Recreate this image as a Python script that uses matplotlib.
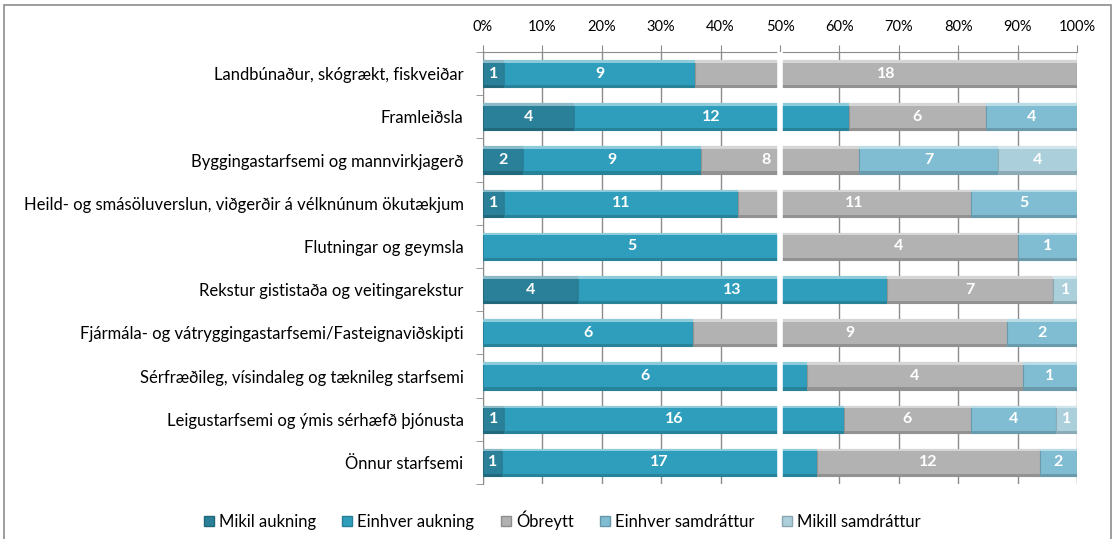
import numpy as np
import matplotlib.pyplot as plt
from matplotlib.patches import Patch, Rectangle
from matplotlib.ticker import FixedLocator, PercentFormatter
import matplotlib.colors as mcolors

plt.rcParams['font.family'] = ['Lato', 'DejaVu Sans']

categories = [
    "Landbúnaður, skógrækt, fiskveiðar",
    "Framleiðsla",
    "Byggingastarfsemi og mannvirkjagerð",
    "Heild- og smásöluverslun, viðgerðir á vélknúnum ökutækjum",
    "Flutningar og geymsla",
    "Rekstur gististaða og veitingarekstur",
    "Fjármála- og vátryggingastarfsemi/Fasteignaviðskipti",
    "Sérfræðileg, vísindaleg og tæknileg starfsemi",
    "Leigustarfsemi og ýmis sérhæfð þjónusta",
    "Önnur starfsemi",
]
series_names = ["Mikil aukning", "Einhver aukning", "Óbreytt",
                "Einhver samdráttur", "Mikill samdráttur"]
mikil_aukning      = [1, 4, 2, 1, 0, 4, 0, 0, 1, 1]
einhver_aukning    = [9, 12, 9, 11, 5, 13, 6, 6, 16, 17]
obreytt            = [18, 6, 8, 11, 4, 7, 9, 4, 6, 12]
einhver_samdrattur = [0, 4, 7, 5, 1, 0, 2, 1, 4, 2]
mikill_samdrattur  = [0, 0, 4, 0, 0, 1, 0, 0, 1, 0]

colors = ["#2a8099", "#2f9ebc", "#b2b2b2", "#80bdd2", "#abd0dc"]

counts = np.array([mikil_aukning, einhver_aukning, obreytt,
                   einhver_samdrattur, mikill_samdrattur], dtype=float)
shares = counts / counts.sum(axis=0)

fig = plt.figure(figsize=(11.17, 5.39), dpi=100)
ax = fig.add_axes([0.4324, 0.102, 0.5318, 0.8015])

y = np.arange(len(categories))
h = 0.63
left = np.zeros(len(categories))
for i, name in enumerate(series_names):
    base = np.array(mcolors.to_rgb(colors[i]))
    light = base + (1 - base) * 0.45
    dark = base * 0.82
    w = shares[i]
    ax.barh(y, w, left=left, height=h, color=colors[i],
            edgecolor=dark, linewidth=0.8, zorder=3, label=name)
    # bevel: light strip on top, darker strip at bottom
    ax.barh(y - h / 2 + 0.03, w, left=left, height=0.06,
            color=light, linewidth=0, zorder=3.1)
    ax.barh(y + h / 2 - 0.025, w, left=left, height=0.05,
            color=dark, linewidth=0, zorder=3.1)
    for j in range(len(categories)):
        if counts[i, j] > 0:
            cx = left[j] + w[j] / 2
            # keep labels clear of the white divider at 50 %
            if abs(cx - 0.5) < 0.02:
                cx = 0.476
            ax.text(cx, y[j], f"{int(counts[i, j])}",
                    ha="center", va="center", color="white",
                    fontsize=11.5, fontweight="bold", zorder=5)
    left += w

ax.axvline(0.5, color="white", lw=4, zorder=4)

ax.set_xlim(0, 1)
ax.set_ylim(len(categories) - 0.5, -0.5)
ax.xaxis.set_major_locator(FixedLocator(np.linspace(0, 1, 11)))
ax.xaxis.set_major_formatter(PercentFormatter(1.0, decimals=0))
ax.xaxis.tick_top()
ax.tick_params(axis="x", direction="out", length=5, color="#8c8c8c",
               labelsize=10.5, pad=8)
ax.grid(axis="x", color="#8c8c8c", lw=1, zorder=0)

ax.set_yticks(y)
ax.set_yticklabels(categories, fontsize=12)
ax.yaxis.set_minor_locator(FixedLocator(np.arange(-0.5, len(categories), 1)))
ax.tick_params(axis="y", which="major", length=0, pad=14)
ax.tick_params(axis="y", which="minor", length=5, color="#8c8c8c")

for side in ["right", "bottom"]:
    ax.spines[side].set_visible(False)
for side in ["left", "top"]:
    ax.spines[side].set_color("#8c8c8c")

handles = [Patch(facecolor=c, edgecolor=np.array(mcolors.to_rgb(c)) * 0.8)
           for c in colors]
fig.legend(handles, series_names, loc="center", bbox_to_anchor=(0.503, 0.035),
           ncol=5, frameon=False, fontsize=12, handlelength=0.6,
           handleheight=0.6, handletextpad=0.3, columnspacing=1.6)

fig.patches.append(Rectangle((4 / 1117, -0.1), 1107 / 1117, 1.1 - 5 / 539,
                             transform=fig.transFigure, fill=False,
                             edgecolor="#8c8c8c", lw=1.2))

fig.savefig("out.png", dpi=100)
